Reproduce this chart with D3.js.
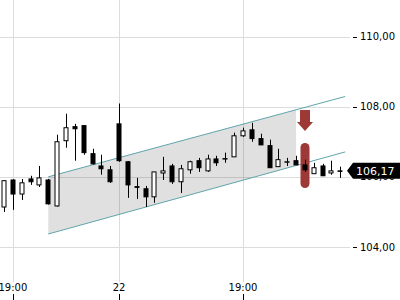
<html>
<head>
    <title>chart</title>
    <style>
        body { margin: 0; background: #fff; }
        svg { display: block; font-family: "DejaVu Sans", sans-serif; }
    </style>
</head>
<body>
    <script src="https://d3js.org/d3.v7.min.js"></script>
    <script>
        // candle data (index based)
        var opens  = [105.14, 105.91, 105.51, 105.94, 105.77, 105.91, 105.17, 107.03, 107.43, 107.46, 106.66, 106.31, 106.20, 107.51, 106.43, 105.72, 105.66, 105.43, 106.11, 106.31, 105.86, 106.20, 106.46, 106.17, 106.51, 106.51, 106.57, 107.17, 107.34, 107.09, 106.89, 106.29, 106.42, 106.46, 106.34, 106.09, 106.31, 106.11, 106.17];
        var highs  = [105.91, 105.93, 105.94, 106.03, 106.31, 105.94, 107.20, 107.80, 107.51, 107.46, 106.80, 106.63, 106.31, 108.09, 106.45, 105.97, 105.74, 106.14, 106.57, 106.37, 106.34, 106.46, 106.54, 106.63, 106.60, 106.69, 107.26, 107.40, 107.54, 107.23, 107.06, 106.80, 106.54, 106.60, 106.49, 106.40, 106.37, 106.46, 106.29];
        var lows   = [105.00, 105.06, 105.34, 105.77, 105.71, 105.21, 105.15, 106.83, 106.46, 106.63, 106.35, 106.06, 105.83, 106.43, 105.40, 105.37, 105.14, 105.26, 105.91, 105.80, 105.54, 106.09, 106.14, 106.14, 106.31, 106.40, 106.57, 107.14, 107.00, 106.91, 106.26, 106.29, 106.31, 106.34, 106.14, 106.09, 106.03, 106.06, 105.97];
        var closes = [105.89, 105.51, 105.83, 105.86, 105.97, 105.23, 107.00, 107.40, 107.37, 106.69, 106.37, 106.23, 105.86, 106.46, 105.77, 105.70, 105.43, 106.14, 106.17, 105.86, 106.23, 106.43, 106.26, 106.51, 106.40, 106.52, 107.17, 107.31, 107.09, 106.91, 106.26, 106.49, 106.43, 106.34, 106.20, 106.26, 106.03, 106.17, 106.17];

        var xTickIdx = [1, 13, 27];
        var xTickLabels = ["19:00", "22", "19:00"];
        var yTicks = [104, 106, 108, 110];

        // channel: [index, upper, lower]
        var channelStart = [5, 106.00, 104.37];
        var channelShadeEnd = 33;
        var channelEnd = [38.55, 108.29, 106.71];

        var signalIdx = 34;
        var lastPrice = 106.17;

        var w = 400, h = 300;
        var svg = d3.select('body').append('svg').attr('width', w).attr('height', h);

        var x = d3.scaleLinear().domain([0, 38]).range([4, 340.3]);
        var y = d3.scaleLinear().domain([104, 110]).range([247, 36.5]);
        var fmt = function (v) { return d3.format('.2f')(v).replace('.', ','); };

        // grid
        svg.append('g').selectAll('line').data(yTicks).enter().append('line')
            .attr('x1', 0).attr('x2', 350)
            .attr('y1', function (d) { return Math.round(y(d)) + 0.5; })
            .attr('y2', function (d) { return Math.round(y(d)) + 0.5; })
            .attr('stroke', '#dcdcdc').attr('stroke-width', 1);
        svg.append('g').selectAll('line').data(xTickIdx).enter().append('line')
            .attr('x1', function (d) { return Math.round(x(d)) + 0.5; })
            .attr('x2', function (d) { return Math.round(x(d)) + 0.5; })
            .attr('y1', 0).attr('y2', 282)
            .attr('stroke', '#dcdcdc').attr('stroke-width', 1);

        // channel shade
        var slopeU = (channelEnd[1] - channelStart[1]) / (channelEnd[0] - channelStart[0]);
        var slopeL = (channelEnd[2] - channelStart[2]) / (channelEnd[0] - channelStart[0]);
        var shadeU = channelStart[1] + slopeU * (channelShadeEnd - channelStart[0]);
        var shadeL = channelStart[2] + slopeL * (channelShadeEnd - channelStart[0]);
        var shadePts = [
            [x(channelStart[0]), y(channelStart[1])],
            [x(channelShadeEnd), y(shadeU)],
            [x(channelShadeEnd), y(shadeL)],
            [x(channelStart[0]), y(channelStart[2])]
        ];
        svg.append('polygon').attr('points', shadePts.join(' '))
            .attr('fill', '#000').attr('fill-opacity', 0.12);
        svg.append('line')
            .attr('x1', x(channelStart[0])).attr('y1', y(channelStart[1]))
            .attr('x2', x(channelEnd[0])).attr('y2', y(channelEnd[1]))
            .attr('stroke', '#5fa5ab').attr('stroke-width', 1);
        svg.append('line')
            .attr('x1', x(channelStart[0])).attr('y1', y(channelStart[2]))
            .attr('x2', x(channelEnd[0])).attr('y2', y(channelEnd[2]))
            .attr('stroke', '#5fa5ab').attr('stroke-width', 1);

        // signal arrow + marker
        var sx = Math.round(x(signalIdx));
        svg.append('path')
            .attr('d', 'M' + (sx - 5) + ',110 L' + (sx + 5) + ',110 L' + (sx + 5) + ',122 L' + (sx + 8) + ',122 L' + sx + ',131 L' + (sx - 8) + ',122 L' + (sx - 5) + ',122 Z')
            .attr('fill', '#9d3a37');
        svg.append('rect')
            .attr('x', sx - 4.5).attr('y', 143).attr('width', 9).attr('height', 45)
            .attr('rx', 4.5).attr('fill', '#9d3a37');

        // candles
        var idx = d3.range(opens.length);
        var bw = 5;
        var g = svg.append('g');
        g.selectAll('line.wick').data(idx).enter().append('line')
            .attr('class', 'wick')
            .attr('x1', function (i) { return Math.round(x(i)) + 0.5; })
            .attr('x2', function (i) { return Math.round(x(i)) + 0.5; })
            .attr('y1', function (i) { return y(highs[i]); })
            .attr('y2', function (i) { return y(lows[i]); })
            .attr('stroke', '#000').attr('stroke-width', 1);
        g.selectAll('rect.body').data(idx).enter().append('rect')
            .attr('class', 'body')
            .attr('x', function (i) { return Math.round(x(i)) - bw / 2 + 0.5; })
            .attr('y', function (i) { return y(Math.max(opens[i], closes[i])); })
            .attr('width', bw - 1)
            .attr('height', function (i) { return Math.max(0.5, Math.abs(y(opens[i]) - y(closes[i]))); })
            .attr('fill', function (i) { return closes[i] > opens[i] ? '#fff' : '#000'; })
            .attr('stroke', '#000').attr('stroke-width', 1);

        // y axis
        var ya = svg.append('g');
        ya.selectAll('line').data(yTicks).enter().append('line')
            .attr('x1', 353).attr('x2', 357)
            .attr('y1', function (d) { return Math.round(y(d)) + 0.5; })
            .attr('y2', function (d) { return Math.round(y(d)) + 0.5; })
            .attr('stroke', '#000');
        ya.selectAll('text').data(yTicks).enter().append('text')
            .attr('x', 360).attr('y', function (d) { return y(d) + 3.5; })
            .attr('font-size', 10).attr('fill', '#000')
            .text(fmt);

        // x axis
        var xa = svg.append('g');
        xa.selectAll('text').data(xTickIdx).enter().append('text')
            .attr('x', function (d) { return x(d); }).attr('y', 291)
            .attr('text-anchor', 'middle').attr('font-size', 10).attr('fill', '#000')
            .text(function (d, i) { return xTickLabels[i]; });
        xa.selectAll('line').data(xTickIdx).enter().append('line')
            .attr('x1', function (d) { return Math.round(x(d)) + 0.5; })
            .attr('x2', function (d) { return Math.round(x(d)) + 0.5; })
            .attr('y1', 294).attr('y2', 300)
            .attr('stroke', '#000');

        // last price tag
        var ly = y(lastPrice);
        svg.append('path')
            .attr('d', 'M347,' + ly + ' L353,' + (ly - 8) + ' L400,' + (ly - 8) + ' L400,' + (ly + 8) + ' L353,' + (ly + 8) + ' Z')
            .attr('fill', '#000');
        svg.append('text').attr('x', 356).attr('y', ly + 4)
            .attr('font-size', 11).attr('fill', '#fff')
            .text(fmt(lastPrice));
    </script>
</body>
</html>
